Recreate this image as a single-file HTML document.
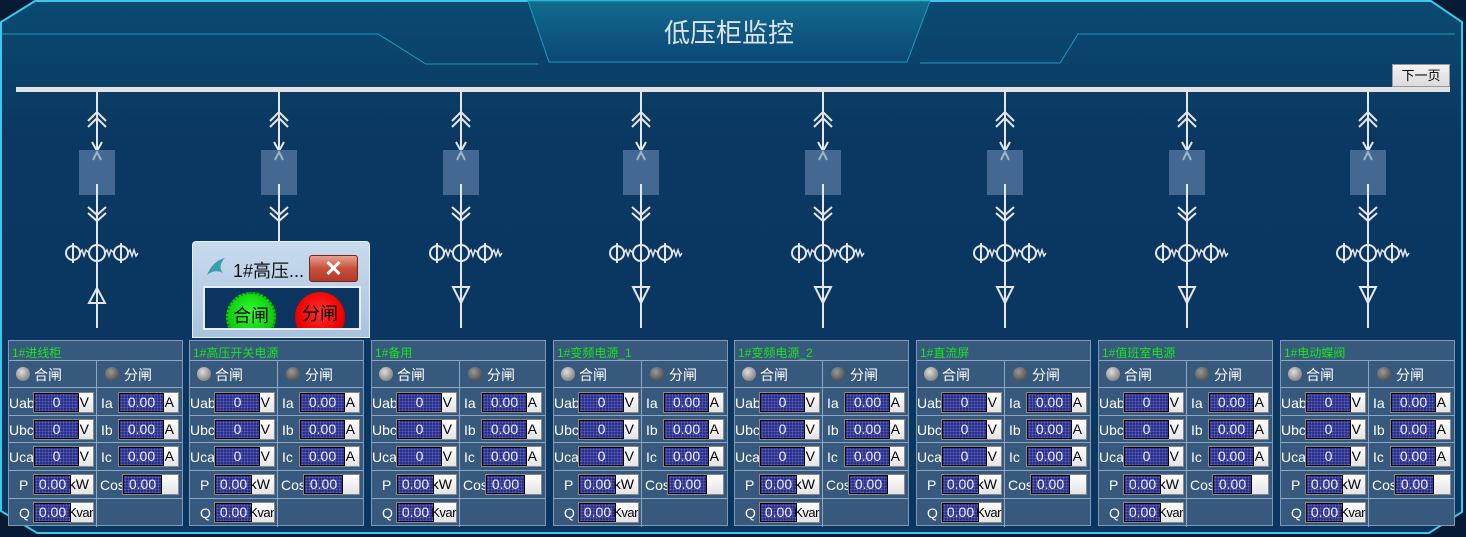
<!DOCTYPE html>
<html><head><meta charset="utf-8">
<style>
*{margin:0;padding:0;box-sizing:border-box}
body{width:1466px;height:537px;overflow:hidden;background:#061a33;font-family:"Liberation Sans","Noto Sans CJK SC",sans-serif;position:relative}
.p{position:absolute;top:340px;width:175px;height:186px;background:#37597d;border:1px solid #7f9ab5;font-size:13px;color:#fff}
.p .t{position:absolute;left:3px;top:3px;color:#19e619;font-size:12px}
.h{position:absolute;left:0;width:173px;height:1px;background:#8ea6bf}
.v{position:absolute;left:87px;top:19px;width:1px;height:167px;background:#8ea6bf}
.r{position:absolute;width:14px;height:14px;border-radius:50%;top:26px;background:radial-gradient(circle at 40% 35%,#ddd,#888 70%)}
.r2{background:radial-gradient(circle at 40% 35%,#999,#555 70%)}
.lb{position:absolute;font-size:14px;line-height:16px}
.b{position:absolute;width:61px;height:21px;background:linear-gradient(#fff,#e4e4e4);border:1px solid #888;color:#000;font-size:14px;line-height:19px}
.b i{position:absolute;left:0;top:0;height:19px;background:#2a2f8a;border:1px solid #000;color:#f0f0f0;font-style:normal;text-align:center;font-size:14px;line-height:17px;background-image:radial-gradient(#5a62b8 1px,transparent 1px);background-size:3px 3px}
.b span{position:absolute;right:4px;top:0}
.b span.k{right:0;font-size:13px;letter-spacing:-0.5px}
</style></head><body>
<svg width="1466" height="537" style="position:absolute;left:0;top:0">
<defs>
<linearGradient id="bg" x1="0" y1="0" x2="0" y2="1"><stop offset="0" stop-color="#0b4a72"/><stop offset="0.25" stop-color="#0a3862"/><stop offset="1" stop-color="#0a3560"/></linearGradient>
<linearGradient id="tg" x1="0" y1="0" x2="0" y2="1"><stop offset="0" stop-color="#126c8e"/><stop offset="1" stop-color="#0b4676"/></linearGradient>
<g id="col" fill="none" stroke="#e6e6e6" stroke-width="2">
<line x1="0" y1="92" x2="0" y2="150"/>
<polyline points="-9,121 0,112 9,121"/><polyline points="-9,127 0,118 9,127"/>
<polyline points="-5,142 0,151 5,142"/>
<rect x="-18" y="150" width="36" height="45" fill="#436891" stroke="none"/>
<polyline points="-4,160 0,152 4,160" stroke="#9fb3c9"/>
<line x1="0" y1="184" x2="0" y2="328"/>
<polyline points="-9,207 0,215 9,207"/><polyline points="-9,213 0,221 9,213"/>
<circle cx="0" cy="253" r="8"/>
<circle cx="-24" cy="253" r="7"/><line x1="-24" y1="243" x2="-24" y2="263"/>
<circle cx="24" cy="253" r="7"/><line x1="24" y1="243" x2="24" y2="263"/>
<polyline stroke-width="1.5" points="-17,253 -15,250 -13,256 -11,250 -8,253"/>
<polyline stroke-width="1.5" points="8,253 10,250 12,256 14,250 17,253"/>
<polyline stroke-width="1.5" points="31,253 33,250 35,256 37,250 39,256 41,253"/>
</g>
</defs>
<polygon points="35,1 1431,1 1462,22 1462,512 1429,533 37,533 1,511 1,22" fill="url(#bg)" stroke="#3cc8e8" stroke-width="2"/>
<polygon points="528,1 930,1 907,62 549,62" fill="url(#tg)" stroke="#1a9cbc" stroke-width="1"/>
<polyline points="2,34 378,34 426,64 538,64" fill="none" stroke="#1a9cbc" stroke-width="1"/>
<polyline points="920,63 1060,63 1078,34 1455,34" fill="none" stroke="#1a9cbc" stroke-width="1"/>
<rect x="16" y="87" width="1434" height="5" fill="#e2e2e2"/>
<use href="#col" x="97"/><use href="#col" x="279"/><use href="#col" x="461"/><use href="#col" x="641"/>
<use href="#col" x="823"/><use href="#col" x="1005"/><use href="#col" x="1187"/><use href="#col" x="1368"/>
<g fill="none" stroke="#e6e6e6" stroke-width="2">
<polygon points="89,303 105,303 97,288"/>
<polygon points="271,287 287,287 279,303"/><polygon points="453,287 469,287 461,303"/>
<polygon points="633,287 649,287 641,303"/><polygon points="815,287 831,287 823,303"/>
<polygon points="997,287 1013,287 1005,303"/><polygon points="1179,287 1195,287 1187,303"/>
<polygon points="1360,287 1376,287 1368,303"/>
</g>
<text x="729" y="42" text-anchor="middle" font-size="26" fill="#dde3ea" font-family="Liberation Sans,Noto Sans CJK SC,sans-serif">低压柜监控</text>
</svg>
<div style="position:absolute;left:1392px;top:64px;width:58px;height:23px;background:linear-gradient(#f2f2f2,#dcdcdc);border:1px solid #999;font-size:13px;text-align:center;line-height:21px;color:#000">下一页</div>

<div class="p" style="left:8px"><div class="t">1#进线柜</div><div class="h" style="top:19px"></div><div class="h" style="top:46px"></div><div class="h" style="top:74px"></div><div class="h" style="top:101px"></div><div class="h" style="top:129px"></div><div class="h" style="top:157px"></div><div class="v"></div>
<div class="r" style="left:7px"></div><div class="lb" style="left:25px;top:26px">合闸</div><div class="r r2" style="left:96px"></div><div class="lb" style="left:115px;top:26px">分闸</div>
<div class="lb" style="left:0;top:54px">Uab</div><div class="b" style="left:24px;top:51px"><i style="width:45px">0</i><span>V</span></div>
<div class="lb" style="left:0;top:81px">Ubc</div><div class="b" style="left:24px;top:78px"><i style="width:45px">0</i><span>V</span></div>
<div class="lb" style="left:0;top:108px">Uca</div><div class="b" style="left:24px;top:105px"><i style="width:45px">0</i><span>V</span></div>
<div class="lb" style="left:92px;top:54px">Ia</div><div class="b" style="left:109px;top:51px"><i style="width:45px">0.00</i><span>A</span></div>
<div class="lb" style="left:92px;top:81px">Ib</div><div class="b" style="left:109px;top:78px"><i style="width:45px">0.00</i><span>A</span></div>
<div class="lb" style="left:92px;top:108px">Ic</div><div class="b" style="left:109px;top:105px"><i style="width:45px">0.00</i><span>A</span></div>
<div class="lb" style="left:10px;top:136px">P</div><div class="b" style="left:24px;top:133px"><i style="width:37px">0.00</i><span>kW</span></div>
<div class="lb" style="left:91px;top:136px">Cos</div><div class="b" style="left:113px;top:133px;width:57px"><i style="width:39px">0.00</i></div>
<div class="lb" style="left:10px;top:164px">Q</div><div class="b" style="left:24px;top:161px"><i style="width:37px">0.00</i><span class="k">Kvar</span></div></div>

<div class="p" style="left:189px"><div class="t">1#高压开关电源</div><div class="h" style="top:19px"></div><div class="h" style="top:46px"></div><div class="h" style="top:74px"></div><div class="h" style="top:101px"></div><div class="h" style="top:129px"></div><div class="h" style="top:157px"></div><div class="v"></div>
<div class="r" style="left:7px"></div><div class="lb" style="left:25px;top:26px">合闸</div><div class="r r2" style="left:96px"></div><div class="lb" style="left:115px;top:26px">分闸</div>
<div class="lb" style="left:0;top:54px">Uab</div><div class="b" style="left:24px;top:51px"><i style="width:45px">0</i><span>V</span></div>
<div class="lb" style="left:0;top:81px">Ubc</div><div class="b" style="left:24px;top:78px"><i style="width:45px">0</i><span>V</span></div>
<div class="lb" style="left:0;top:108px">Uca</div><div class="b" style="left:24px;top:105px"><i style="width:45px">0</i><span>V</span></div>
<div class="lb" style="left:92px;top:54px">Ia</div><div class="b" style="left:109px;top:51px"><i style="width:45px">0.00</i><span>A</span></div>
<div class="lb" style="left:92px;top:81px">Ib</div><div class="b" style="left:109px;top:78px"><i style="width:45px">0.00</i><span>A</span></div>
<div class="lb" style="left:92px;top:108px">Ic</div><div class="b" style="left:109px;top:105px"><i style="width:45px">0.00</i><span>A</span></div>
<div class="lb" style="left:10px;top:136px">P</div><div class="b" style="left:24px;top:133px"><i style="width:37px">0.00</i><span>kW</span></div>
<div class="lb" style="left:91px;top:136px">Cos</div><div class="b" style="left:113px;top:133px;width:57px"><i style="width:39px">0.00</i></div>
<div class="lb" style="left:10px;top:164px">Q</div><div class="b" style="left:24px;top:161px"><i style="width:37px">0.00</i><span class="k">Kvar</span></div></div>

<div class="p" style="left:371px"><div class="t">1#备用</div><div class="h" style="top:19px"></div><div class="h" style="top:46px"></div><div class="h" style="top:74px"></div><div class="h" style="top:101px"></div><div class="h" style="top:129px"></div><div class="h" style="top:157px"></div><div class="v"></div>
<div class="r" style="left:7px"></div><div class="lb" style="left:25px;top:26px">合闸</div><div class="r r2" style="left:96px"></div><div class="lb" style="left:115px;top:26px">分闸</div>
<div class="lb" style="left:0;top:54px">Uab</div><div class="b" style="left:24px;top:51px"><i style="width:45px">0</i><span>V</span></div>
<div class="lb" style="left:0;top:81px">Ubc</div><div class="b" style="left:24px;top:78px"><i style="width:45px">0</i><span>V</span></div>
<div class="lb" style="left:0;top:108px">Uca</div><div class="b" style="left:24px;top:105px"><i style="width:45px">0</i><span>V</span></div>
<div class="lb" style="left:92px;top:54px">Ia</div><div class="b" style="left:109px;top:51px"><i style="width:45px">0.00</i><span>A</span></div>
<div class="lb" style="left:92px;top:81px">Ib</div><div class="b" style="left:109px;top:78px"><i style="width:45px">0.00</i><span>A</span></div>
<div class="lb" style="left:92px;top:108px">Ic</div><div class="b" style="left:109px;top:105px"><i style="width:45px">0.00</i><span>A</span></div>
<div class="lb" style="left:10px;top:136px">P</div><div class="b" style="left:24px;top:133px"><i style="width:37px">0.00</i><span>kW</span></div>
<div class="lb" style="left:91px;top:136px">Cos</div><div class="b" style="left:113px;top:133px;width:57px"><i style="width:39px">0.00</i></div>
<div class="lb" style="left:10px;top:164px">Q</div><div class="b" style="left:24px;top:161px"><i style="width:37px">0.00</i><span class="k">Kvar</span></div></div>

<div class="p" style="left:553px"><div class="t">1#变频电源_1</div><div class="h" style="top:19px"></div><div class="h" style="top:46px"></div><div class="h" style="top:74px"></div><div class="h" style="top:101px"></div><div class="h" style="top:129px"></div><div class="h" style="top:157px"></div><div class="v"></div>
<div class="r" style="left:7px"></div><div class="lb" style="left:25px;top:26px">合闸</div><div class="r r2" style="left:96px"></div><div class="lb" style="left:115px;top:26px">分闸</div>
<div class="lb" style="left:0;top:54px">Uab</div><div class="b" style="left:24px;top:51px"><i style="width:45px">0</i><span>V</span></div>
<div class="lb" style="left:0;top:81px">Ubc</div><div class="b" style="left:24px;top:78px"><i style="width:45px">0</i><span>V</span></div>
<div class="lb" style="left:0;top:108px">Uca</div><div class="b" style="left:24px;top:105px"><i style="width:45px">0</i><span>V</span></div>
<div class="lb" style="left:92px;top:54px">Ia</div><div class="b" style="left:109px;top:51px"><i style="width:45px">0.00</i><span>A</span></div>
<div class="lb" style="left:92px;top:81px">Ib</div><div class="b" style="left:109px;top:78px"><i style="width:45px">0.00</i><span>A</span></div>
<div class="lb" style="left:92px;top:108px">Ic</div><div class="b" style="left:109px;top:105px"><i style="width:45px">0.00</i><span>A</span></div>
<div class="lb" style="left:10px;top:136px">P</div><div class="b" style="left:24px;top:133px"><i style="width:37px">0.00</i><span>kW</span></div>
<div class="lb" style="left:91px;top:136px">Cos</div><div class="b" style="left:113px;top:133px;width:57px"><i style="width:39px">0.00</i></div>
<div class="lb" style="left:10px;top:164px">Q</div><div class="b" style="left:24px;top:161px"><i style="width:37px">0.00</i><span class="k">Kvar</span></div></div>

<div class="p" style="left:734px"><div class="t">1#变频电源_2</div><div class="h" style="top:19px"></div><div class="h" style="top:46px"></div><div class="h" style="top:74px"></div><div class="h" style="top:101px"></div><div class="h" style="top:129px"></div><div class="h" style="top:157px"></div><div class="v"></div>
<div class="r" style="left:7px"></div><div class="lb" style="left:25px;top:26px">合闸</div><div class="r r2" style="left:96px"></div><div class="lb" style="left:115px;top:26px">分闸</div>
<div class="lb" style="left:0;top:54px">Uab</div><div class="b" style="left:24px;top:51px"><i style="width:45px">0</i><span>V</span></div>
<div class="lb" style="left:0;top:81px">Ubc</div><div class="b" style="left:24px;top:78px"><i style="width:45px">0</i><span>V</span></div>
<div class="lb" style="left:0;top:108px">Uca</div><div class="b" style="left:24px;top:105px"><i style="width:45px">0</i><span>V</span></div>
<div class="lb" style="left:92px;top:54px">Ia</div><div class="b" style="left:109px;top:51px"><i style="width:45px">0.00</i><span>A</span></div>
<div class="lb" style="left:92px;top:81px">Ib</div><div class="b" style="left:109px;top:78px"><i style="width:45px">0.00</i><span>A</span></div>
<div class="lb" style="left:92px;top:108px">Ic</div><div class="b" style="left:109px;top:105px"><i style="width:45px">0.00</i><span>A</span></div>
<div class="lb" style="left:10px;top:136px">P</div><div class="b" style="left:24px;top:133px"><i style="width:37px">0.00</i><span>kW</span></div>
<div class="lb" style="left:91px;top:136px">Cos</div><div class="b" style="left:113px;top:133px;width:57px"><i style="width:39px">0.00</i></div>
<div class="lb" style="left:10px;top:164px">Q</div><div class="b" style="left:24px;top:161px"><i style="width:37px">0.00</i><span class="k">Kvar</span></div></div>

<div class="p" style="left:916px"><div class="t">1#直流屏</div><div class="h" style="top:19px"></div><div class="h" style="top:46px"></div><div class="h" style="top:74px"></div><div class="h" style="top:101px"></div><div class="h" style="top:129px"></div><div class="h" style="top:157px"></div><div class="v"></div>
<div class="r" style="left:7px"></div><div class="lb" style="left:25px;top:26px">合闸</div><div class="r r2" style="left:96px"></div><div class="lb" style="left:115px;top:26px">分闸</div>
<div class="lb" style="left:0;top:54px">Uab</div><div class="b" style="left:24px;top:51px"><i style="width:45px">0</i><span>V</span></div>
<div class="lb" style="left:0;top:81px">Ubc</div><div class="b" style="left:24px;top:78px"><i style="width:45px">0</i><span>V</span></div>
<div class="lb" style="left:0;top:108px">Uca</div><div class="b" style="left:24px;top:105px"><i style="width:45px">0</i><span>V</span></div>
<div class="lb" style="left:92px;top:54px">Ia</div><div class="b" style="left:109px;top:51px"><i style="width:45px">0.00</i><span>A</span></div>
<div class="lb" style="left:92px;top:81px">Ib</div><div class="b" style="left:109px;top:78px"><i style="width:45px">0.00</i><span>A</span></div>
<div class="lb" style="left:92px;top:108px">Ic</div><div class="b" style="left:109px;top:105px"><i style="width:45px">0.00</i><span>A</span></div>
<div class="lb" style="left:10px;top:136px">P</div><div class="b" style="left:24px;top:133px"><i style="width:37px">0.00</i><span>kW</span></div>
<div class="lb" style="left:91px;top:136px">Cos</div><div class="b" style="left:113px;top:133px;width:57px"><i style="width:39px">0.00</i></div>
<div class="lb" style="left:10px;top:164px">Q</div><div class="b" style="left:24px;top:161px"><i style="width:37px">0.00</i><span class="k">Kvar</span></div></div>

<div class="p" style="left:1098px"><div class="t">1#值班室电源</div><div class="h" style="top:19px"></div><div class="h" style="top:46px"></div><div class="h" style="top:74px"></div><div class="h" style="top:101px"></div><div class="h" style="top:129px"></div><div class="h" style="top:157px"></div><div class="v"></div>
<div class="r" style="left:7px"></div><div class="lb" style="left:25px;top:26px">合闸</div><div class="r r2" style="left:96px"></div><div class="lb" style="left:115px;top:26px">分闸</div>
<div class="lb" style="left:0;top:54px">Uab</div><div class="b" style="left:24px;top:51px"><i style="width:45px">0</i><span>V</span></div>
<div class="lb" style="left:0;top:81px">Ubc</div><div class="b" style="left:24px;top:78px"><i style="width:45px">0</i><span>V</span></div>
<div class="lb" style="left:0;top:108px">Uca</div><div class="b" style="left:24px;top:105px"><i style="width:45px">0</i><span>V</span></div>
<div class="lb" style="left:92px;top:54px">Ia</div><div class="b" style="left:109px;top:51px"><i style="width:45px">0.00</i><span>A</span></div>
<div class="lb" style="left:92px;top:81px">Ib</div><div class="b" style="left:109px;top:78px"><i style="width:45px">0.00</i><span>A</span></div>
<div class="lb" style="left:92px;top:108px">Ic</div><div class="b" style="left:109px;top:105px"><i style="width:45px">0.00</i><span>A</span></div>
<div class="lb" style="left:10px;top:136px">P</div><div class="b" style="left:24px;top:133px"><i style="width:37px">0.00</i><span>kW</span></div>
<div class="lb" style="left:91px;top:136px">Cos</div><div class="b" style="left:113px;top:133px;width:57px"><i style="width:39px">0.00</i></div>
<div class="lb" style="left:10px;top:164px">Q</div><div class="b" style="left:24px;top:161px"><i style="width:37px">0.00</i><span class="k">Kvar</span></div></div>

<div class="p" style="left:1280px"><div class="t">1#电动蝶阀</div><div class="h" style="top:19px"></div><div class="h" style="top:46px"></div><div class="h" style="top:74px"></div><div class="h" style="top:101px"></div><div class="h" style="top:129px"></div><div class="h" style="top:157px"></div><div class="v"></div>
<div class="r" style="left:7px"></div><div class="lb" style="left:25px;top:26px">合闸</div><div class="r r2" style="left:96px"></div><div class="lb" style="left:115px;top:26px">分闸</div>
<div class="lb" style="left:0;top:54px">Uab</div><div class="b" style="left:24px;top:51px"><i style="width:45px">0</i><span>V</span></div>
<div class="lb" style="left:0;top:81px">Ubc</div><div class="b" style="left:24px;top:78px"><i style="width:45px">0</i><span>V</span></div>
<div class="lb" style="left:0;top:108px">Uca</div><div class="b" style="left:24px;top:105px"><i style="width:45px">0</i><span>V</span></div>
<div class="lb" style="left:92px;top:54px">Ia</div><div class="b" style="left:109px;top:51px"><i style="width:45px">0.00</i><span>A</span></div>
<div class="lb" style="left:92px;top:81px">Ib</div><div class="b" style="left:109px;top:78px"><i style="width:45px">0.00</i><span>A</span></div>
<div class="lb" style="left:92px;top:108px">Ic</div><div class="b" style="left:109px;top:105px"><i style="width:45px">0.00</i><span>A</span></div>
<div class="lb" style="left:10px;top:136px">P</div><div class="b" style="left:24px;top:133px"><i style="width:37px">0.00</i><span>kW</span></div>
<div class="lb" style="left:91px;top:136px">Cos</div><div class="b" style="left:113px;top:133px;width:57px"><i style="width:39px">0.00</i></div>
<div class="lb" style="left:10px;top:164px">Q</div><div class="b" style="left:24px;top:161px"><i style="width:37px">0.00</i><span class="k">Kvar</span></div></div>

<div style="position:absolute;left:192px;top:241px;width:178px;height:97px;background:linear-gradient(#c9dbee,#a9c3de);border:1px solid #e8f0f8;border-radius:4px 4px 0 0;overflow:hidden">
<svg width="22" height="20" style="position:absolute;left:12px;top:15px"><path d="M2,18 C6,8 12,3 20,1 C15,6 14,12 18,16 C12,13 7,14 2,18Z" fill="#3aa0a8"/></svg>
<div style="position:absolute;left:40px;top:15px;font-size:18px;color:#111">1#高压...</div>
<div style="position:absolute;left:116px;top:13px;width:49px;height:27px;border:1px solid #6b2a20;border-radius:3px;background:linear-gradient(#e8a090,#c8503c 50%,#b03a28)"><div style="color:#fff;font-size:22px;font-weight:bold;text-align:center;line-height:25px">✕</div></div>
<div style="position:absolute;left:10px;top:44px;width:158px;height:44px;background:#0b3560;border:2px solid #e8eef5;overflow:hidden">
<div style="position:absolute;left:21px;top:4px;width:50px;height:50px;border-radius:50%;background:radial-gradient(circle at 50% 40%,#30ff30,#10d010 60%,#0a9a0a);border:2px dotted #0a8a0a;font-size:18px;text-align:center;line-height:44px;color:#000">合闸</div>
<div style="position:absolute;left:90px;top:4px;width:50px;height:50px;border-radius:50%;background:radial-gradient(circle at 50% 40%,#ff3030,#ee0000 60%,#a00000);font-size:18px;text-align:center;line-height:44px;color:#000">分闸</div>
</div></div>
</body></html>
